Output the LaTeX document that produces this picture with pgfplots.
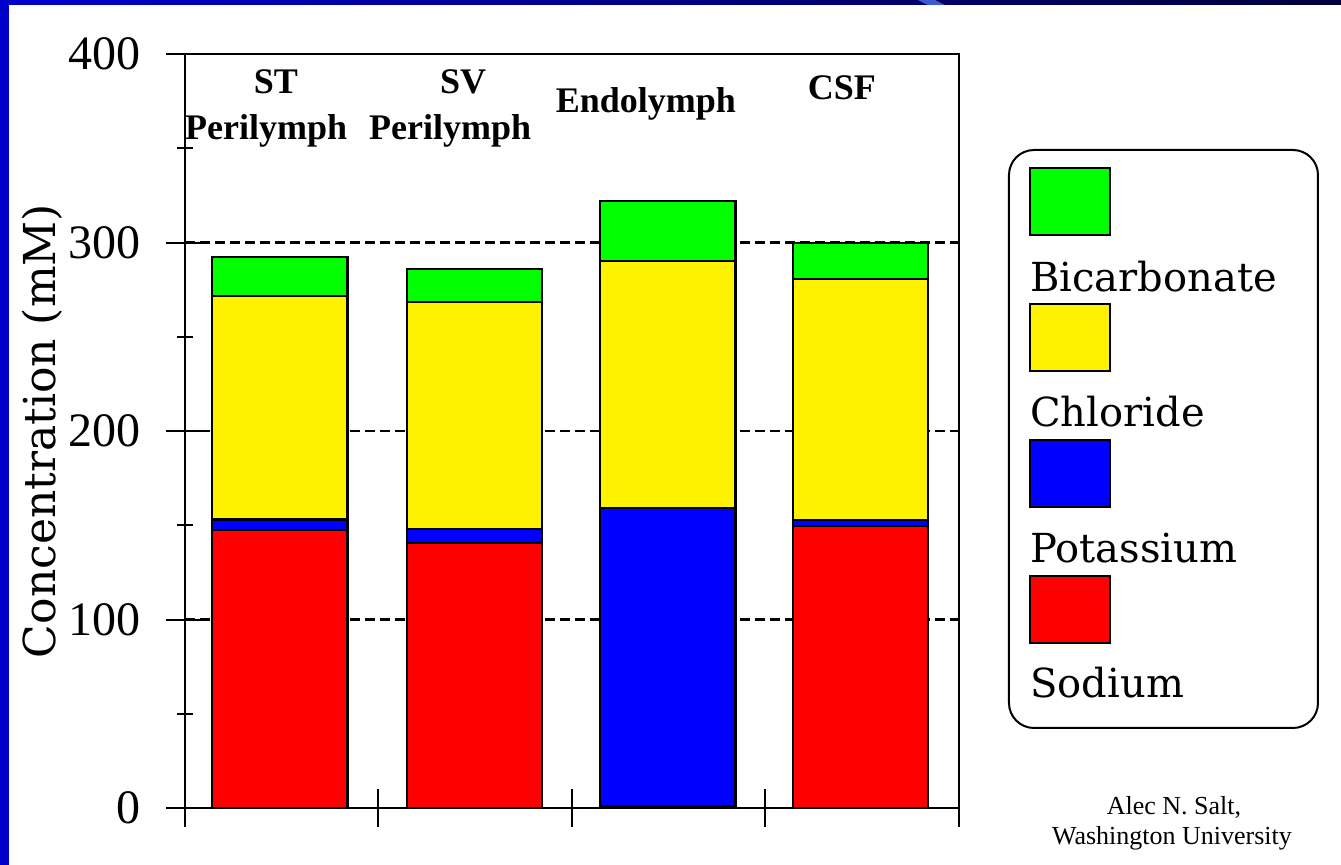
\documentclass[border=0pt]{standalone}
\usepackage{fontspec}
\setmainfont{Liberation Serif}
\newfontfamily\dvs{DejaVu Serif}
\usepackage{pgfplots}
\pgfplotsset{compat=1.18}
\definecolor{frameblue}{RGB}{0,0,205}
\definecolor{framenavy}{RGB}{0,0,60}
\definecolor{streak}{RGB}{60,90,210}
\begin{document}
\begin{tikzpicture}
\fill[white] (0,0) rectangle (670.5bp,-432.5bp);
\begin{axis}[
  at={(92.5bp,-404bp)}, anchor=south west,
  scale only axis, width=387bp, height=377bp,
  xmin=0, xmax=4, ymin=0, ymax=400,
  ybar stacked, bar width=0.698,
  xtick={0,1,2,3,4}, xticklabels={},
  ytick={0,100,200,300,400},
  minor ytick={50,150,250,350},
  xtick pos=bottom, ytick pos=left,
  tick align=center,
  major tick length=19bp, minor tick length=8bp,
  tick style={black, line width=1bp},
  axis line style={line width=1bp},
  ymajorgrids,
  grid style={black, line width=1.2bp, dash pattern=on 5bp off 2.5bp},
  yticklabel style={font=\fontsize{24bp}{24bp}\selectfont, anchor=east, inner sep=0pt, xshift=-12.5bp},
  /pgf/number format/assume math mode=true,
  ylabel={Concentration (mM)},
  every axis y label/.style={at={(axis description cs:-0.1848,0.5)}, rotate=90, anchor=center, font=\dvs\fontsize{22bp}{22bp}\selectfont},
  clip=false,
]
\addplot[fill=red, draw=black, line width=1.2bp]
  coordinates {(0.49,147.5) (1.495,140.6) (2.495,1.0) (3.49,149.6)};
\addplot[fill=blue, draw=black, line width=1.2bp]
  coordinates {(0.49,5.5) (1.495,7.4) (2.495,158.2) (3.49,3.2)};
\addplot[fill=yellow, draw=black, line width=1.2bp]
  coordinates {(0.49,118.6) (1.495,120.4) (2.495,131.0) (3.49,127.8)};
\addplot[fill=green, draw=black, line width=1.2bp]
  coordinates {(0.49,20.7) (1.495,17.5) (2.495,31.8) (3.49,19.1)};
\node[font=\bfseries\fontsize{18bp}{18bp}\selectfont, anchor=base, inner sep=0pt] at (axis cs:0.470,379.3) {ST};
\node[font=\bfseries\fontsize{18bp}{18bp}\selectfont, anchor=base, inner sep=0pt] at (axis cs:0.419,354.4) {Perilymph};
\node[font=\bfseries\fontsize{18bp}{18bp}\selectfont, anchor=base, inner sep=0pt] at (axis cs:1.437,379.3) {SV};
\node[font=\bfseries\fontsize{18bp}{18bp}\selectfont, anchor=base, inner sep=0pt] at (axis cs:1.370,354.4) {Perilymph};
\node[font=\bfseries\fontsize{18bp}{18bp}\selectfont, anchor=base, inner sep=0pt] at (axis cs:2.382,369.2) {Endolymph};
\node[font=\bfseries\fontsize{18bp}{18bp}\selectfont, anchor=base, inner sep=0pt] at (axis cs:3.395,375.6) {CSF};
\end{axis}
\begin{scope}[x=0.5bp, y=-0.5bp]
% legend
\draw[line width=1bp, rounded corners=12.5bp] (1009,150) rectangle (1318,728);
\draw[line width=1bp, fill=green] (1030,168) rectangle (1110,235);
\draw[line width=1bp, fill=yellow] (1030,304) rectangle (1110,371);
\draw[line width=1bp, fill=blue] (1030,440) rectangle (1110,507);
\draw[line width=1bp, fill=red] (1030,576) rectangle (1110,643);
\begin{scope}[every node/.style={anchor=base west, inner sep=0pt, font=\dvs\fontsize{20bp}{20bp}\selectfont}]
\node at (1030,292) {Bicarbonate};
\node at (1030,427) {Chloride};
\node at (1030,563) {Potassium};
\node at (1030,698) {Sodium};
\end{scope}
\node[anchor=base, inner sep=0pt, font=\fontsize{13bp}{13bp}\selectfont] at (1174,815) {Alec N. Salt,};
\node[anchor=base, inner sep=0pt, font=\fontsize{13bp}{13bp}\selectfont] at (1172,845) {Washington University};
\fill[frameblue] (0,0) rectangle (9,865);
\shade[left color=frameblue, right color=framenavy] (0,0) rectangle (1341,5);
\fill[streak] (918,0) -- (935,0) -- (945,5) -- (928,5) -- cycle;
\end{scope}
\pgfresetboundingbox
\path[use as bounding box] (0,0) rectangle (670.5bp,-432.5bp);
\end{tikzpicture}
\end{document}
